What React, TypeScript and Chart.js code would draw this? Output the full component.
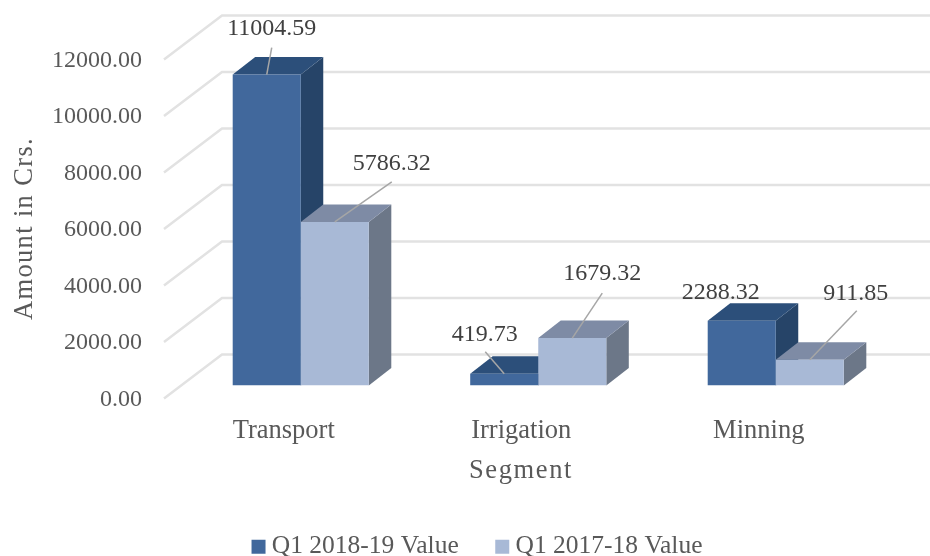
import React, { useEffect, useRef } from "react";
import { Chart, registerables } from "chart.js";

Chart.register(...registerables);

const categories = ["Transport", "Irrigation", "Minning"];
const seriesNames = ["Q1 2018-19 Value", "Q1 2017-18 Value"];
const q1201819 = [11004.59, 419.73, 2288.32];
const q1201718 = [5786.32, 1679.32, 911.85];
const tickStep = 2000;
const axisMax = 12000;

const FONT = '"Liberation Serif", serif';
const frontColors = ["#41689C", "#A8B9D6"];
const topColors = ["#2C4F7A", "#7E8BA5"];
const sideColors = ["#264468", "#6C7788"];

// label placement relative to the top-front centre of each bar: [dx, dy, lineDx, lineDy] (line optional)
const labelPlacement: (number[])[][] = [
  [[5, -46, 5, -27], [-19.5, -39, -19, -22], [-21, -28]],
  [[57, -58, 57, -40], [30, -64, 30, -45], [46, -66, 47, -49]],
];

const DEPTH_X = 22.5;
const DEPTH_Y = 17.5;

const legendPlacement = {
  id: "legendPlacement",
  afterLayout(chart: any) {
    const lg = chart.legend;
    const w = lg.right - lg.left;
    lg.left += 33;
    lg.right = lg.left + w;
    lg.top = 548 - 44 - 13;
  },
};

const scene3d = {
  id: "scene3d",
  beforeDatasetsDraw(chart: any) {
    const { ctx, scales, chartArea, width } = chart;
    const y = scales.y;
    ctx.save();
    ctx.strokeStyle = "#E2E2E2";
    ctx.lineWidth = 2.5;
    for (let v = 0; v <= axisMax; v += tickStep) {
      const p = y.getPixelForValue(v);
      ctx.beginPath();
      ctx.moveTo(chartArea.left - 18, p + 13);
      ctx.lineTo(chartArea.left + 40, p - 31);
      ctx.lineTo(width, p - 31);
      ctx.stroke();
    }
    chart.data.datasets.forEach((_: any, di: number) => {
      chart.getDatasetMeta(di).data.forEach((bar: any) => {
        const half = bar.width / 2;
        const l = bar.x - half;
        const r = bar.x + half;
        const t = bar.y;
        const b = bar.base;
        ctx.fillStyle = sideColors[di];
        ctx.beginPath();
        ctx.moveTo(r, t);
        ctx.lineTo(r + DEPTH_X, t - DEPTH_Y);
        ctx.lineTo(r + DEPTH_X, b - DEPTH_Y);
        ctx.lineTo(r, b);
        ctx.closePath();
        ctx.fill();
        ctx.fillStyle = topColors[di];
        ctx.beginPath();
        ctx.moveTo(l, t);
        ctx.lineTo(l + DEPTH_X, t - DEPTH_Y);
        ctx.lineTo(r + DEPTH_X, t - DEPTH_Y);
        ctx.lineTo(r, t);
        ctx.closePath();
        ctx.fill();
      });
    });
    ctx.restore();
  },
  afterDatasetsDraw(chart: any) {
    const { ctx } = chart;
    ctx.save();
    chart.data.datasets.forEach((ds: any, di: number) => {
      chart.getDatasetMeta(di).data.forEach((bar: any, i: number) => {
        const [dx, dy, lx, ly] = labelPlacement[di][i];
        if (lx !== undefined) {
          ctx.strokeStyle = "#A6A6A6";
          ctx.lineWidth = 1.5;
          ctx.beginPath();
          ctx.moveTo(bar.x + lx, bar.y + ly);
          ctx.lineTo(bar.x, bar.y);
          ctx.stroke();
        }
        ctx.fillStyle = "#404040";
        ctx.font = `24px ${FONT}`;
        ctx.textAlign = "center";
        ctx.textBaseline = "middle";
        ctx.fillText(ds.data[i].toFixed(2), bar.x + dx, bar.y + dy);
      });
    });
    ctx.fillStyle = "#595959";
    ctx.font = `26.5px ${FONT}`;
    ctx.textAlign = "center";
    ctx.textBaseline = "middle";
    (ctx as any).letterSpacing = "1.6px";
    ctx.fillText("Segment", 521, 471);
    (ctx as any).letterSpacing = "1.35px";
    ctx.translate(25, 228.5);
    ctx.rotate(-Math.PI / 2);
    ctx.fillText("Amount in Crs.", 0, 0);
    ctx.restore();
  },
};

export default function App() {
  const ref = useRef<HTMLCanvasElement>(null);
  useEffect(() => {
    const chart = new Chart(ref.current!, {
      type: "bar",
      data: {
        labels: categories,
        datasets: [
          { label: seriesNames[0], data: q1201819, backgroundColor: frontColors[0], categoryPercentage: 0.573, barPercentage: 1 },
          { label: seriesNames[1], data: q1201718, backgroundColor: frontColors[1], categoryPercentage: 0.573, barPercentage: 1 },
        ],
      },
      options: {
        responsive: false,
        animation: false,
        layout: { padding: { left: 0, right: 35.5, top: 37, bottom: 0 } },
        plugins: {
          tooltip: { enabled: false },
          legend: {
            position: "bottom",
            labels: {
              usePointStyle: true,
              pointStyle: "rect",
              boxWidth: 1,
              boxHeight: 14,
              padding: 43,
              color: "#595959",
              font: { family: FONT, size: 25.5 },
            },
          },
        },
        scales: {
          x: {
            grid: { display: false },
            border: { display: false },
            ticks: {
              color: "#595959",
              font: { family: FONT, size: 26.5 },
              labelOffset: -17,
              padding: 22,
              maxRotation: 0,
            },
            afterFit(s: any) {
              s.height = 92;
            },
          },
          y: {
            min: 0,
            max: axisMax,
            grid: { display: false },
            border: { display: false },
            ticks: {
              stepSize: tickStep,
              color: "#595959",
              font: { family: FONT, size: 24 },
              labelOffset: 14,
              padding: 32,
              callback: (v: any) => Number(v).toFixed(2),
            },
            afterFit(s: any) {
              s.width = 182;
            },
          },
        },
      },
      plugins: [scene3d, legendPlacement],
    } as any);
    return () => chart.destroy();
  }, []);
  return (
    <div style={{ position: "fixed", left: 0, top: 0, width: 930, height: 556, background: "#fff" }}>
      <canvas ref={ref} width={930} height={556} style={{ display: "block" }} />
    </div>
  );
}
